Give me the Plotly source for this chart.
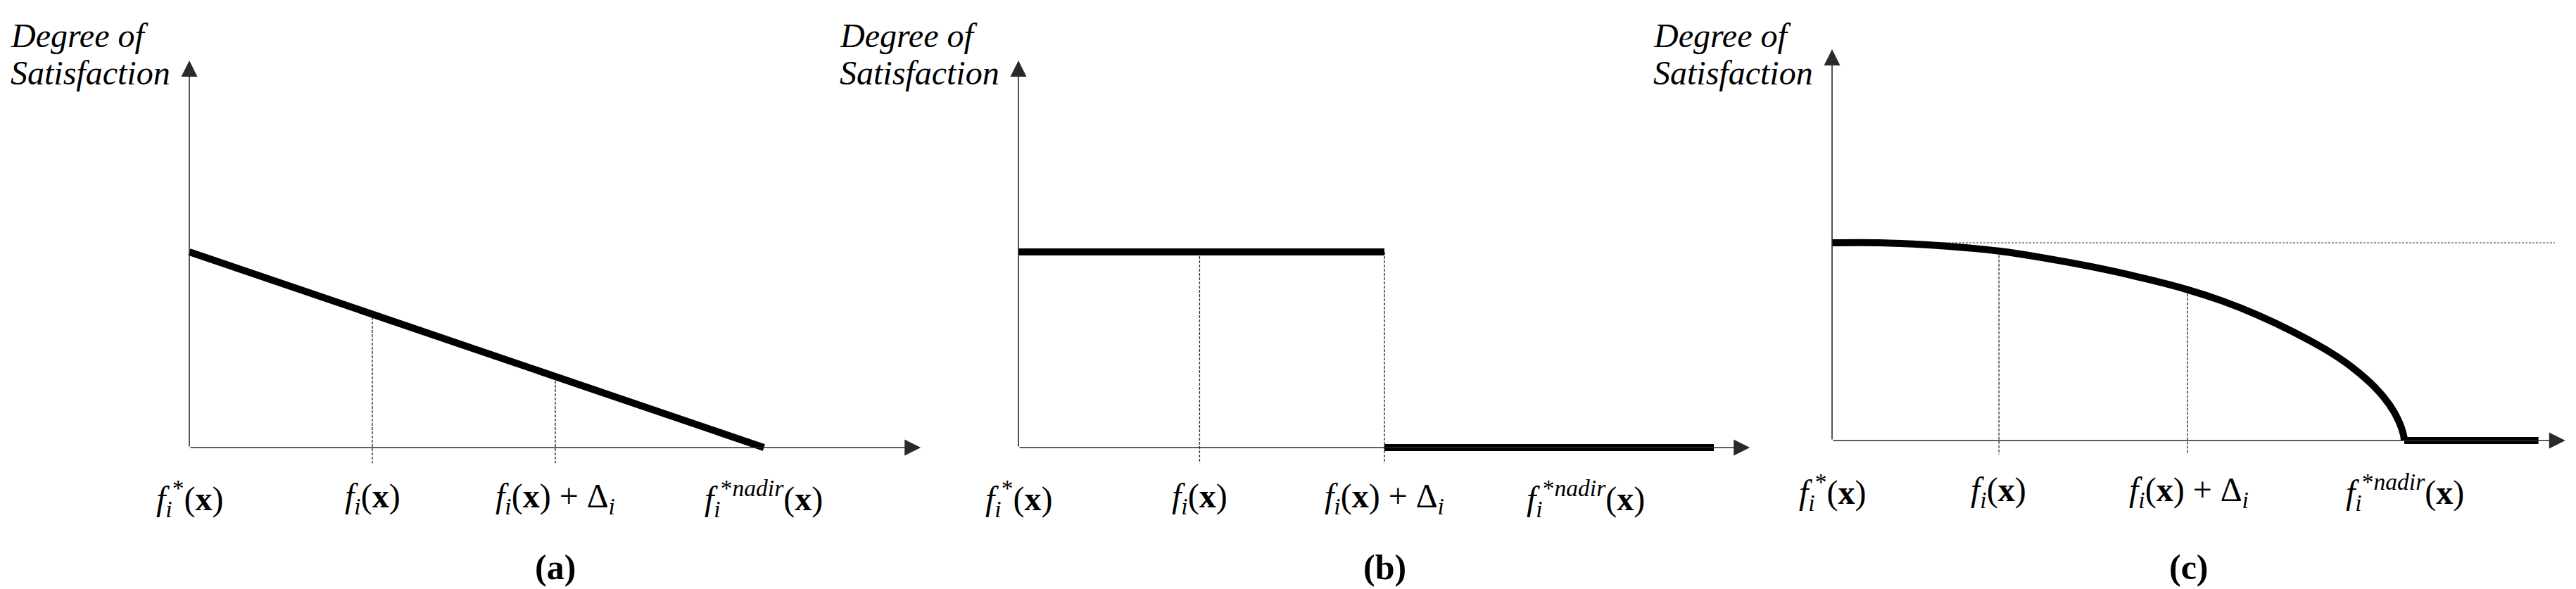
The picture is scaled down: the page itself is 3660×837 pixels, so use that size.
import plotly.graph_objects as go

W, H = 3660, 837

# ---------------- data (in axis units) ----------------
tick_text = [
    "<i>f</i><sub><i>i</i></sub><sup>*</sup>(<b>x</b>)",
    "<i>f</i><sub><i>i</i></sub>(<b>x</b>)",
    "<i>f</i><sub><i>i</i></sub>(<b>x</b>) + Δ<sub><i>i</i></sub>",
    "<i>f</i><sub><i>i</i></sub><sup>*<i>nadir</i></sup>(<b>x</b>)",
]
captions = ["<b>(a)</b>", "<b>(b)</b>", "<b>(c)</b>"]
y_title = ["<i>Degree of</i>", "<i>Satisfaction</i>"]

# panel (a): linear
a_ticks = [0.0, 1.0, 2.0, 3.14]
a_line_x = [0.0, 3.14]
a_line_y = [1.0, 0.0]
a_drop_x = [1.0, 2.0]
a_drop_top = [0.687, 0.363]

# panel (b): step
b_ticks = [0.0, 0.99, 2.0, 3.1]
b_high_x = [0.0, 2.0]
b_high_y = [1.0, 1.0]
b_low_x = [2.0, 3.8]
b_low_y = [0.0, 0.0]
b_drop_x = [0.99, 2.0]
b_drop_top = [1.0, 1.0]

# panel (c): concave curve
c_ticks = [0.0, 0.91, 1.95, 3.13]
c_curve_x = [0.0, 0.258, 0.512, 0.769, 0.912, 1.154, 1.412, 1.665, 1.942, 2.135, 2.327,
             2.519, 2.712, 2.838, 2.969, 3.046, 3.096, 3.123, 3.127]
c_curve_y = [1.0, 1.0, 0.990, 0.972, 0.958, 0.924, 0.880, 0.829, 0.763, 0.705, 0.634,
             0.550, 0.452, 0.373, 0.267, 0.181, 0.100, 0.028, 0.0]
c_low_x = [3.127, 3.86]
c_low_y = [0.0, 0.0]
c_ref_x = [0.0, 3.95]
c_ref_y = [1.0, 1.0]
c_drop_x = [0.912, 1.942]
c_drop_top = [0.958, 0.763]

drop_bottom = [-0.08, -0.08, -0.07]
x_axis_end = [4.02, 4.02, 4.03]
y_axis_end = 2.0
caption_at = [2.0, 2.0, 1.95]

# ---------------- layout geometry (pixels) ----------------
origins = [(261, 628, 260, 278), (1439, 628, 260, 278), (2595, 618, 260, 281)]

FONT = "Liberation Serif"
AX_COL = "#2a2a2a"
THICK = 10

fig = go.Figure()
annotations = []

for p, (X0, Y0, sx, sy) in enumerate(origins):
    n = "" if p == 0 else str(p + 1)
    xa, ya = "x" + n, "y" + n
    fig.update_layout(**{
        "xaxis" + n: dict(domain=[0, 1], range=[-X0 / sx, (W - X0) / sx], visible=False,
                          anchor=ya, fixedrange=True),
        "yaxis" + n: dict(domain=[0, 1], range=[-(H - Y0) / sy, Y0 / sy], visible=False,
                          anchor=xa, fixedrange=True),
    })

    def line(x, y, width=THICK, color="black", dash=None, shape="linear"):
        fig.add_trace(go.Scatter(x=x, y=y, mode="lines", xaxis=xa, yaxis=ya,
                                 line=dict(color=color, width=width, dash=dash, shape=shape),
                                 showlegend=False, hoverinfo="skip"))

    if p == 0:
        ticks, dx, dtop = a_ticks, a_drop_x, a_drop_top
    elif p == 1:
        ticks, dx, dtop = b_ticks, b_drop_x, b_drop_top
    else:
        ticks, dx, dtop = c_ticks, c_drop_x, c_drop_top

    # dashed drop lines
    for xv, yt in zip(dx, dtop):
        line([xv, xv], [yt, drop_bottom[p]], width=1.4, color="#333", dash="4px,2px")

    # reference dotted line (c)
    if p == 2:
        line(c_ref_x, c_ref_y, width=2, color="#999999", dash="3px,2px")

    # axes with arrowheads
    scale = 4.6
    aw = 1.6
    ext = 1.3 * scale
    annotations.append(dict(x=x_axis_end[p] - ext / sx, y=0, ax=0, ay=0, xref=xa, yref=ya,
                            axref=xa, ayref=ya, text="", showarrow=True, arrowhead=2,
                            arrowwidth=aw, arrowsize=scale / aw, arrowcolor=AX_COL, standoff=0))
    annotations.append(dict(x=0, y=y_axis_end - ext / sy, ax=0, ay=0, xref=xa, yref=ya,
                            axref=xa, ayref=ya, text="", showarrow=True, arrowhead=2,
                            arrowwidth=aw, arrowsize=scale / aw, arrowcolor=AX_COL, standoff=0))

    # thick functions
    if p == 0:
        line(a_line_x, a_line_y)
    elif p == 1:
        line(b_high_x, b_high_y)
        line(b_low_x, b_low_y)
    else:
        line(c_curve_x, c_curve_y, shape="spline")
        line(c_low_x, c_low_y)

    # tick labels
    for xv, t in zip(ticks, tick_text):
        annotations.append(dict(x=xv, y=-0.26, xref=xa, yref=ya, text=t, showarrow=False,
                                xanchor="center", yanchor="middle",
                                font=dict(family=FONT, size=48, color="black")))
    # caption
    annotations.append(dict(x=caption_at[p], y=1 - 798 / H, xref=xa, yref="paper", text=captions[p],
                            showarrow=False, xanchor="center", yanchor="middle",
                            font=dict(family=FONT, size=50, color="black")))
    # y title
    for k, t in enumerate(y_title):
        annotations.append(dict(x=-256 / sx, y=1 - (42 + 54 * k) / H, xref=xa, yref="paper", text=t,
                                showarrow=False, xanchor="left", yanchor="middle",
                                font=dict(family=FONT, size=48, color="black")))

fig.update_layout(width=W, height=H, margin=dict(l=0, r=0, t=0, b=0),
                  paper_bgcolor="white", plot_bgcolor="rgba(0,0,0,0)",
                  annotations=annotations, showlegend=False)

fig.write_html("out.html")
